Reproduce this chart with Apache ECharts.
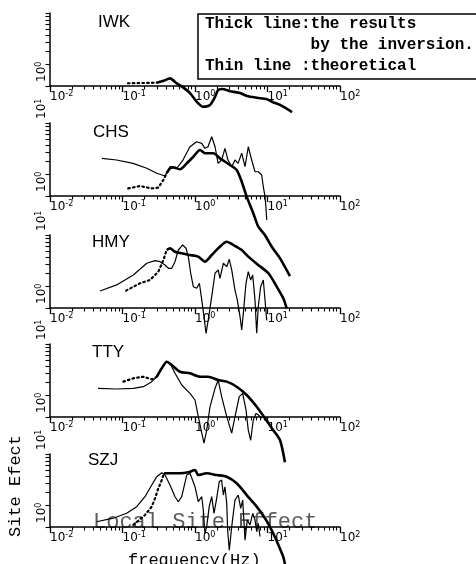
<!DOCTYPE html>
<html><head><meta charset="utf-8">
<script src="https://cdn.jsdelivr.net/npm/echarts@6/dist/echarts.min.js"></script>
<style>html,body{margin:0;padding:0;background:#fff}#c{width:476px;height:564px}</style>
</head><body><div id="c"></div>
<script>
// ---- data: [frequency (Hz), site amplification] ----
const stationNames = ['IWK', 'CHS', 'HMY', 'TTY', 'SZJ'];

const iwkThin = [];
const iwkDotted = [[0.119,1.09],[0.2,1.1],[0.299,1.11]];
const iwkThick = [[0.299,1.11],[0.37,1.18],[0.452,1.27],[0.55,1.1],[0.662,0.98],[0.853,0.8],[1.07,0.6],[1.29,0.52],[1.61,0.55],[1.89,0.71],[2.08,0.88],[2.36,0.91],[3.04,0.85],[4.18,0.8],[5.22,0.73],[7.16,0.69],[9.84,0.66],[11.9,0.6],[14.9,0.55],[21.8,0.44]];

const chsThin = [[0.052,3.28],[0.083,3.11],[0.14,2.8],[0.216,2.4],[0.297,2.05],[0.386,1.88],[0.452,2.52],[0.56,2.4],[0.682,3.11],[0.853,4.73],[1.055,5.54],[1.24,5.27],[1.37,4.5],[1.51,4.73],[1.7,6.49],[1.89,4.73],[2.08,2.8],[2.33,3.11],[2.59,4.5],[2.85,3.11],[3.21,2.52],[3.56,3.11],[3.92,2.8],[4.41,3.85],[4.9,2.52],[5.43,4.73],[6.05,3.11],[6.72,2.15],[7.46,2.15],[8.31,1.94],[8.75,1.34],[9.24,0.98],[9.5,0.71],[9.75,0.47]];
const chsDotted = [[0.12,1.27],[0.174,1.37],[0.253,1.27],[0.312,1.3],[0.366,1.66],[0.407,2.05]];
const chsThick = [[0.407,2.05],[0.452,2.4],[0.502,2.47],[0.621,2.32],[0.769,2.8],[0.948,3.45],[1.173,4.27],[1.374,3.85],[1.79,3.85],[2.21,3.28],[3.04,2.66],[3.76,2.27],[4.41,1.57],[5.16,0.98],[6.37,0.58],[7.46,0.38],[9.24,0.29],[11.5,0.2],[14.9,0.14],[20.4,0.08]];

const hmyThin = [[0.049,1.71],[0.083,2.07],[0.141,2.83],[0.216,4.1],[0.281,4.45],[0.329,4.31],[0.386,3.88],[0.429,3.5],[0.478,3.5],[0.53,4.31],[0.589,6.23],[0.676,7.3],[0.752,6.58],[0.809,5.05],[0.873,2.99],[0.948,1.96],[1.055,1.86],[1.15,2.18],[1.24,1.29],[1.33,0.76],[1.42,0.45],[1.52,0.68],[1.7,1.43],[1.89,2.99],[2.09,3.32],[2.21,2.55],[2.46,4.1],[2.74,3.68],[2.97,4.65],[3.21,3.32],[3.56,1.76],[3.83,1.29],[4.18,0.76],[4.41,0.5],[4.64,0.85],[5.05,2.18],[5.43,3.14],[5.86,2.42],[6.25,2.83],[6.72,1.29],[7.1,0.45],[7.46,1.04],[8.05,1.96],[8.75,2.42],[9.24,1.29],[9.75,0.68]];
const hmyDotted = [[0.112,1.73],[0.174,2.18],[0.239,2.42],[0.312,3.14],[0.366,4.54],[0.407,6.23]];
const hmyThick = [[0.407,6.23],[0.452,6.58],[0.53,5.9],[0.656,5.61],[0.853,5.32],[1.11,5.05],[1.37,4.31],[1.7,5.32],[2.09,6.58],[2.74,8.09],[3.38,7.3],[4.41,6.23],[5.43,5.05],[7.46,3.88],[10.3,2.99],[13.4,1.96],[16.5,1.36],[18.4,0.99]];

const ttyThin = [[0.046,2.47],[0.083,2.42],[0.141,2.47],[0.194,2.6],[0.253,3.05],[0.297,3.56],[0.348,4.65],[0.407,5.72],[0.452,5.44],[0.53,3.97],[0.656,2.74],[0.853,2.11],[1.0,1.71],[1.11,1.01],[1.24,0.6],[1.33,0.44],[1.45,0.66],[1.61,1.38],[1.89,2.47],[2.09,3.21],[2.33,1.9],[2.74,1.01],[3.21,0.6],[3.56,1.01],[4.08,1.9],[4.55,2.11],[5.05,1.25],[5.43,0.66],[5.86,0.48],[6.37,0.91],[6.93,1.12],[7.46,1.07],[8.31,0.96]];
const ttyDotted = [[0.103,3.05],[0.141,3.39],[0.194,3.56],[0.253,3.28],[0.297,3.56]];
const ttyThick = [[0.297,3.56],[0.348,4.65],[0.407,5.72],[0.478,5.15],[0.621,4.17],[0.853,3.97],[1.17,3.56],[1.52,3.56],[2.09,3.21],[2.74,3.05],[3.76,2.6],[5.16,2.0],[7.1,1.38],[9.24,0.96],[12.0,0.66],[14.9,0.48],[17.4,0.24]];

const szjThin = [[0.044,1.18],[0.0746,1.32],[0.114,1.54],[0.157,1.9],[0.204,2.6],[0.253,3.76],[0.297,4.89],[0.348,5.54],[0.386,5.15],[0.452,3.76],[0.53,2.6],[0.589,2.22],[0.656,2.6],[0.769,5.15],[0.853,5.44],[1.0,3.56],[1.11,2.22],[1.24,2.6],[1.3,1.71],[1.37,0.82],[1.45,1.01],[1.57,1.9],[1.7,2.6],[1.83,1.54],[1.99,2.47],[2.16,4.17],[2.33,4.4],[2.46,2.74],[2.59,3.56],[2.74,2.11],[2.82,0.91],[2.97,0.48],[3.21,1.01],[3.56,2.34],[3.95,2.74],[4.27,1.8],[4.55,2.34],[4.9,0.66],[5.26,1.25],[5.74,1.07],[6.25,1.54],[6.72,1.25],[7.1,0.86],[7.46,1.12],[7.88,0.74]];
const szjDotted = [[0.141,1.07],[0.204,1.46],[0.253,1.9],[0.281,2.47],[0.312,3.39],[0.348,4.4],[0.373,5.44]];
const szjThick = [[0.373,5.44],[0.452,5.44],[0.621,5.44],[0.809,5.61],[1.0,6.04],[1.11,5.15],[1.45,5.44],[1.99,5.15],[2.74,4.89],[3.76,3.97],[5.16,2.74],[7.1,1.9],[9.24,1.32],[11.4,0.91],[14.1,0.57],[16.5,0.39],[17.4,0.31]];

// tick values
const xMajorTicks = [0.01, 0.1, 1, 10, 100];
const xMinorTicks = [0.02,0.03,0.04,0.05,0.06,0.07,0.08,0.09,0.2,0.3,0.4,0.5,0.6,0.7,0.8,0.9,2,3,4,5,6,7,8,9,20,30,40,50,60,70,80,90];
const yTicks = [1,2,3,4,5,6,7,8,9,10];
const yLabelTicks = [1, 10];

const panelData = [
  {thin: iwkThin, dotted: iwkDotted, thick: iwkThick},
  {thin: chsThin, dotted: chsDotted, thick: chsThick},
  {thin: hmyThin, dotted: hmyDotted, thick: hmyThick},
  {thin: ttyThin, dotted: ttyDotted, thick: ttyThick},
  {thin: szjThin, dotted: szjDotted, thick: szjThick}
];

// ---- layout ----
const baselines = [86, 196, 308, 417, 527];
const titlePos = [[98,14],[93,124],[92,234],[92,344],[88,452]];
const panelH = 73;

const fmt = v => '{b|10}{s|' + Math.round(Math.log10(v)) + '}';
const rich = {
  b: {fontSize: 12, fontFamily: 'DejaVu Sans', color: '#000', lineHeight: 14},
  s: {fontSize: 8, fontFamily: 'DejaVu Sans', color: '#000', verticalAlign: 'top', lineHeight: 8}
};

const grids = [], xAxes = [], yAxes = [], series = [];
panelData.forEach((p, i) => {
  grids.push({left: 50, width: 290, top: baselines[i] - panelH, height: panelH});
  xAxes.push({
    type: 'log', logBase: 10, gridIndex: i, min: 0.01, max: 100, position: 'bottom',
    axisLine: {show: true, lineStyle: {color: '#000', width: 1.5}},
    axisTick: {show: true, inside: false, length: 6, customValues: xMajorTicks, lineStyle: {color: '#000', width: 1.3}},
    axisLabel: {show: true, customValues: xMajorTicks, formatter: fmt, rich: rich, align: 'left', margin: 4},
    splitLine: {show: false}
  });
  xAxes.push({
    type: 'log', logBase: 10, gridIndex: i, min: 0.01, max: 100, position: 'bottom',
    axisLine: {show: false},
    axisTick: {show: true, inside: false, length: 3.5, customValues: xMinorTicks, lineStyle: {color: '#000', width: 1.1}},
    axisLabel: {show: false},
    splitLine: {show: false}
  });
  yAxes.push({
    type: 'log', logBase: 10, gridIndex: i, min: 1, max: 10, position: 'left',
    axisLine: {show: true, lineStyle: {color: '#000', width: 1.5}},
    axisTick: {show: true, inside: false, length: 4.5, customValues: yTicks, lineStyle: {color: '#000', width: 1.1}},
    axisLabel: {show: true, customValues: i === 0 ? [1] : yLabelTicks, formatter: fmt, rich: rich,
      rotate: 90, align: 'left', verticalAlign: 'bottom', margin: 1, padding: [0, 0, 0, 4]},
    splitLine: {show: false}
  });
  const common = {type: 'line', xAxisIndex: 2 * i, yAxisIndex: i, showSymbol: false, symbol: 'none',
    clip: false, animation: false, silent: true};
  if (p.thin.length) series.push(Object.assign({}, common, {name: stationNames[i] + ' theoretical', data: p.thin,
    lineStyle: {color: '#000', width: 1.2}}));
  series.push(Object.assign({}, common, {name: stationNames[i] + ' inversion (low)', data: p.dotted,
    lineStyle: {color: '#000', width: 2.2, type: [1.6, 3.2], cap: 'round'}}));
  series.push(Object.assign({}, common, {name: stationNames[i] + ' inversion', data: p.thick, smooth: 0.25,
    lineStyle: {color: '#000', width: 2.6}}));
});

const graphics = [];
stationNames.forEach((n, i) => {
  graphics.push({type: 'text', left: titlePos[i][0], top: titlePos[i][1],
    style: {text: n, font: '17px "Liberation Sans"', fill: '#000'}});
});
graphics.push({type: 'rect', shape: {x: 198, y: 14, width: 300, height: 65},
  style: {fill: 'none', stroke: '#000', lineWidth: 1.5}});
const legendLines = ['Thick line:the results', '           by the inversion.', 'Thin line :theoretical'];
const legendTops = [15.5, 36.8, 58];
legendLines.forEach((t, k) => graphics.push({type: 'text', x: 205, y: legendTops[k],
  style: {text: t, font: 'bold 16px "Liberation Mono"', fill: '#000', textVerticalAlign: 'top'}}));
graphics.push({type: 'text', x: 93, y: 533,
  style: {text: 'Local Site Effect', font: '22px "Liberation Mono"', fill: '#333', opacity: 0.8, textVerticalAlign: 'bottom'}});
graphics.push({type: 'text', x: 128, y: 552,
  style: {text: 'frequency(Hz)', font: '17px "Liberation Mono"', fill: '#000', textVerticalAlign: 'top'}});
graphics.push({type: 'text', x: 15, y: 537, rotation: Math.PI / 2,
  style: {text: 'Site Efect', font: '17px "Liberation Mono"', fill: '#000', textAlign: 'left', textVerticalAlign: 'middle'}});

const chart = echarts.init(document.getElementById('c'), null, {renderer: 'canvas'});
chart.setOption({
  backgroundColor: '#fff',
  animation: false,
  grid: grids, xAxis: xAxes, yAxis: yAxes, series: series,
  graphic: graphics
});
</script></body></html>
